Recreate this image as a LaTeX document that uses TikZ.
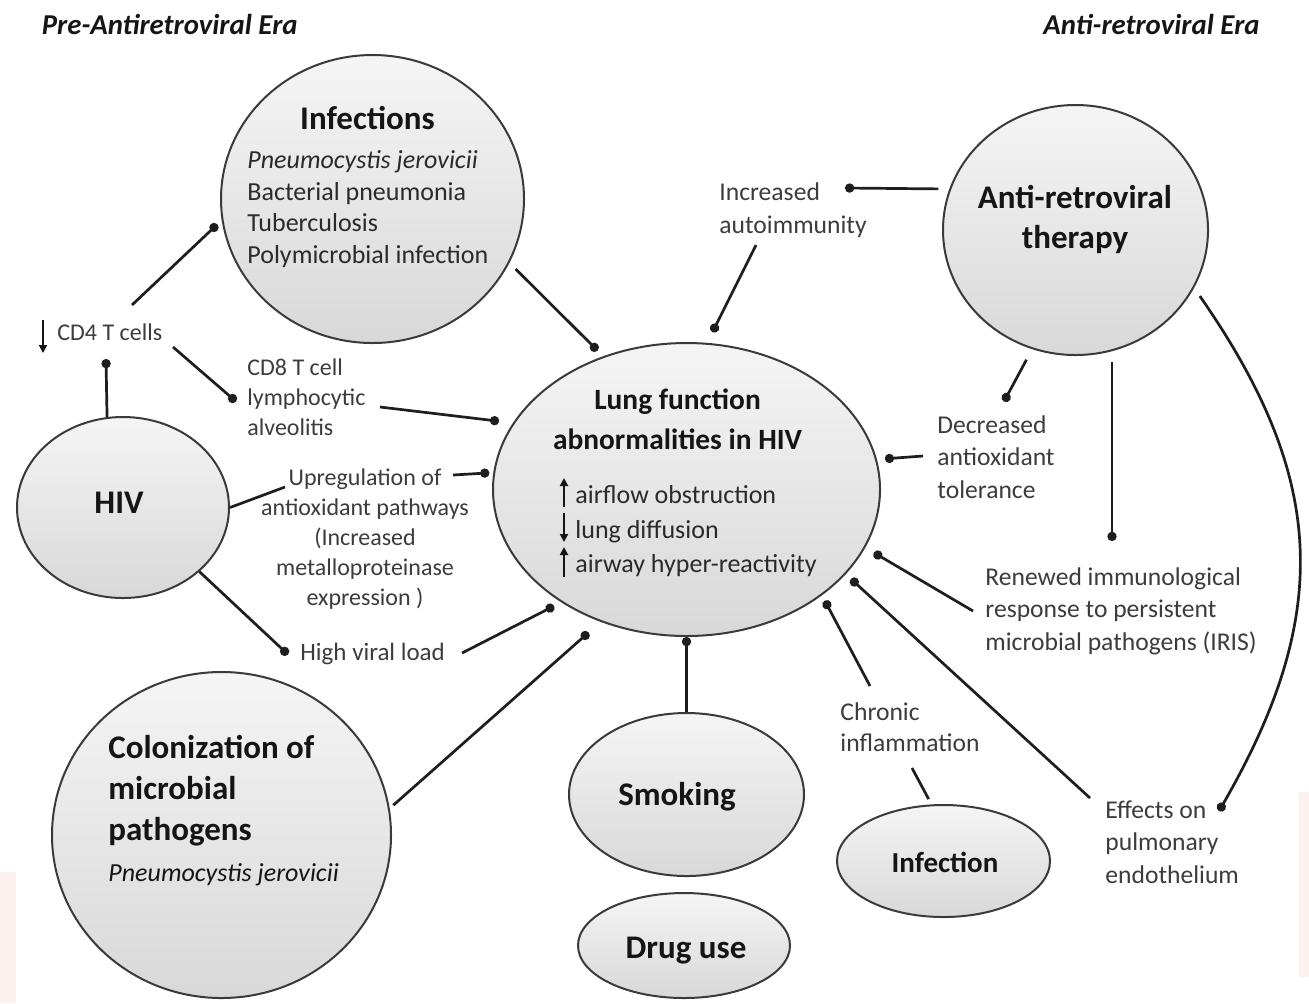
\documentclass[tikz,border=0pt]{standalone}
\usepackage{fontspec}
\setmainfont{Carlito}
\usetikzlibrary{shapes.geometric,arrows.meta}
\definecolor{bord}{HTML}{3A3A3A}
\definecolor{linec}{HTML}{1E1E1E}
\definecolor{labc}{HTML}{3C3C3C}
\definecolor{bodyc}{HTML}{2A2A2A}
\definecolor{ttlc}{HTML}{151515}
\definecolor{fillt}{HTML}{F5F5F5}
\definecolor{fillb}{HTML}{D8D8D8}
\definecolor{pinkbg}{HTML}{FDF1F0}
\newcommand\myfs[2]{\fontsize{#1}{#2}\selectfont}
\begin{document}
\begin{tikzpicture}[x=0.5pt,y=-0.5pt,
  bub/.style={ellipse, draw=bord, line width=1pt, top color=fillt, bottom color=fillb, inner sep=0pt},
  conn/.style={line width=1.35pt, draw=linec, -{Circle[length=4.6pt]}},
  plainc/.style={line width=1.35pt, draw=linec},
  glyph/.style={line width=0.9pt, draw=ttlc, -{Triangle[length=4pt,width=4pt]}},
  lab/.style={inner sep=0pt, text=labc, font=\myfs{12}{15}, align=left},
  body/.style={inner sep=0pt, text=bodyc, font=\myfs{13}{15.9}, align=left},
  ttl/.style={inner sep=0pt, text=ttlc, font=\bfseries\myfs{16.5}{20}},
  hdr/.style={inner sep=0pt, text=ttlc, font=\bfseries\itshape\myfs{14.4}{17}}]
\useasboundingbox (0,0) rectangle (1309,1003);
\fill[white] (0,0) rectangle (1309,1003);
\fill[pinkbg] (0,872) rectangle (16,1003);
\fill[pinkbg] (1299,792) rectangle (1309,977);

% headers
\node[hdr, anchor=base west] (pre) at (41.5,34) {Pre-Antiretroviral Era};
\node[hdr, anchor=base east] (post) at (1260,34) {Anti-retroviral Era};

% bubbles
\node[bub, minimum width=151.5pt, minimum height=144pt] (inf) at (372.5,199) {};
\node[bub, minimum width=132.5pt, minimum height=125pt] (art) at (1075.5,230) {};
\node[bub, minimum width=193.5pt, minimum height=146.5pt] (lung) at (686.5,489.5) {};
\node[bub, minimum width=106pt, minimum height=90.5pt] (hiv) at (123,507.5) {};
\node[bub, minimum width=169.5pt, minimum height=163pt] (col) at (221.5,835) {};
\node[bub, minimum width=117.5pt, minimum height=81.5pt] (smoke) at (686.5,794.5) {};
\node[bub, minimum width=106pt, minimum height=52.5pt] (drug) at (684,945.5) {};
\node[bub, minimum width=106.5pt, minimum height=56pt] (infx) at (943.5,861) {};

% texts inside bubbles
\node[ttl, anchor=base] (inft) at (367.5,129.5) {Infections};
\node[body, anchor=north west] (infl) at (247,150) {\textit{Pneumocystis jerovicii}\\Bacterial pneumonia\\Tuberculosis\\Polymicrobial infection};
\node[ttl, align=center, anchor=north] (artt) at (1075,184.5) {Anti-retroviral\\therapy};
\node[ttl, anchor=base] (hivt) at (119,513.5) {HIV};
\node[ttl, align=left, anchor=north west, font=\bfseries\myfs{16.5}{20.5}] (colt) at (108,734.5) {Colonization of\\microbial\\pathogens\\{\mdseries\itshape\myfs{13}{20.5}Pneumocystis jerovicii}};
\node[ttl, anchor=base] (smoket) at (677,805.5) {Smoking};
\node[ttl, anchor=base] (drugt) at (686,958) {Drug use};
\node[ttl, anchor=base, font=\bfseries\myfs{14.5}{17}] (infxt) at (945,872) {Infection};
\node[ttl, align=center, anchor=north, font=\bfseries\myfs{14.7}{20}] (lungt) at (677.5,388) {Lung function\\abnormalities in HIV};
\node[body, anchor=north west, font=\myfs{13}{17.3}] (lungl) at (575,485) {airflow obstruction\\lung diffusion\\airway hyper-reactivity};
\draw[glyph] (564,507) -- (564,478);
\draw[glyph] (564,513) -- (564,542);
\draw[glyph] (564,577) -- (564,547);

% labels
\node[lab, anchor=base west] (cd4) at (57,340.7) {CD4 T cells};
\draw[glyph] (43,320) -- (43,353);
\node[lab, anchor=north west] (cd8) at (247,358) {CD8 T cell\\lymphocytic\\alveolitis};
\node[lab, align=center, anchor=north, font=\myfs{12}{15.1}] (upreg) at (365,468) {Upregulation of\\antioxidant pathways\\(Increased\\metalloproteinase\\expression )};
\node[lab, anchor=base west, font=\myfs{12.5}{15}] (hvl) at (300,660) {High viral load};
\node[lab, anchor=north west, font=\myfs{12.8}{16.8}] (incr) at (719,182) {Increased\\autoimmunity};
\node[lab, anchor=north west, font=\myfs{12.8}{16.25}] (decr) at (937,415) {Decreased\\antioxidant\\tolerance};
\node[lab, anchor=north west, font=\myfs{12.8}{16.25}] (renew) at (985,567) {Renewed immunological\\response to persistent\\microbial pathogens (IRIS)};
\node[lab, anchor=north west, font=\myfs{12.8}{15.5}] (chron) at (840,702) {Chronic\\inflammation};
\node[lab, anchor=north west, font=\myfs{12.8}{16.25}] (eff) at (1105,800) {Effects on\\pulmonary\\endothelium};

% free connector ends
\coordinate (cd4up) at (132,305);
\coordinate (cd4dn) at (106,359);
\coordinate (cd4r) at (173,347);
\coordinate (cd8in) at (236,401.5);
\coordinate (cd8out) at (380,407);
\coordinate (upregin) at (285,487);
\coordinate (upregout) at (453,475);
\coordinate (hvlin) at (288,654.5);
\coordinate (hvlout) at (462,653);
\coordinate (incrin) at (845,188);
\coordinate (incrout) at (756,245);
\coordinate (decrin) at (1004,401.5);
\coordinate (decrout) at (923,456);
\coordinate (renewin) at (1112,541);
\coordinate (renewout) at (973,611);
\coordinate (chrout) at (870,686);
\coordinate (chrin) at (912,768);
\coordinate (effout) at (1090,798);
\coordinate (effin) at (1219,811);

% connectors
\draw[conn, shorten >=3pt] (cd4up) -- (inf.188.2);
\draw[conn] (hiv.100.8) -- (cd4dn);
\draw[conn] (cd4r) -- (cd8in);
\draw[conn, shorten >=7pt] (cd8out) -- (lung.159.1);
\draw[conn, shorten <=4.4pt, shorten >=4pt] (inf.-25.4) -- (lung.122.1);
\draw[plainc] (hiv.east) -- (upregin);
\draw[conn, shorten >=2pt] (upregout) -- (lung.175.9);
\draw[conn] (hiv.-40.7) -- (hvlin);
\draw[conn, shorten >=4pt] (hvlout) -- (lung.222.1);
\draw[conn, shorten <=2.4pt, shorten >=8pt] (col.9.9) -- (lung.237.5);
\draw[conn] (smoke.north) -- (lung.south);
\draw[conn, shorten >=3pt] (chrout) -- (lung.-38.9);
\draw[plainc, shorten <=3pt] (infx.102.3) -- (chrin);
\draw[conn, shorten >=3.5pt] (effout) -- (lung.-28.8);
\draw[conn, shorten >=5pt] (renewout) -- (lung.-18.1);
\draw[conn, shorten >=4pt] (decrout) -- (lung.9.2);
\draw[conn, shorten <=5.5pt] (art.162.9) -- (incrin);
\draw[conn, shorten >=6pt] (incrout) -- (lung.82.8);
\draw[conn, shorten <=6pt] (art.250.3) -- (decrin);
\draw[conn] ([yshift=-3pt]art.south -| renewin) -- (renewin);
\draw[conn, shorten <=5pt] (art.-26.1) .. controls (1325,476) and (1334,612) .. (effin);
\end{tikzpicture}
\end{document}
